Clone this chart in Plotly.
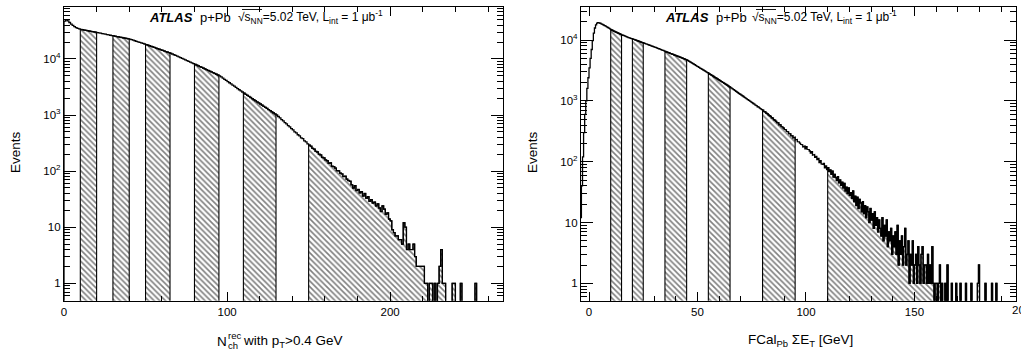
import plotly.graph_objects as go

# ---------------- data ----------------
# Left panel: N_ch^rec (pT > 0.4 GeV), bin width 1, first bin starts at 0
nch_start = 0
nch_width = 1
nch_counts = [
    47000, 49500, 47500, 44500, 41500, 39500, 37500, 36200, 35000, 34200,
    33500, 33080, 32660, 32250, 31840, 31440, 31050, 30660, 30270, 29890,
    29500, 29100, 28700, 28300, 27910, 27530, 27150, 26780, 26410, 26050,
    25700, 25360, 25030, 24700, 24370, 24050, 23730, 23420, 23110, 22800,
    22500, 22000, 21520, 21050, 20590, 20130, 19690, 19260, 18840, 18420,
    18000, 17580, 17160, 16760, 16370, 15980, 15600, 15240, 14880, 14530,
    14190, 13850, 13530, 13210, 12900, 12600, 12230, 11860, 11510, 11170,
    10830, 10510, 10200, 9900, 9600, 9320, 9040, 8770, 8510, 8260,
    8010, 7750, 7510, 7280, 7060, 6840, 6630, 6420, 6220, 6030,
    5850, 5670, 5490, 5320, 5160, 5000, 4770, 4550, 4330, 4130,
    3940, 3760, 3580, 3420, 3260, 3110, 2960, 2820, 2690, 2570,
    2450, 2340, 2240, 2140, 2050, 1960, 1870, 1790, 1710, 1640,
    1570, 1500, 1430, 1370, 1310, 1250, 1200, 1140, 1090, 1045,
    1000, 940, 890, 826, 785, 730, 695, 645, 612, 570,
    545, 500, 480, 445, 425, 392, 378, 345, 333, 305,
    290, 278, 255, 247, 225, 219, 200, 194, 176, 172,
    158, 153, 138, 140, 122, 120, 113, 102, 101, 92,
    89, 80, 81, 72, 68, 66, 57, 50, 55, 45,
    47, 41, 43, 36, 40, 33, 35, 29, 31, 27,
    28, 24, 26, 22, 19, 24, 21, 17, 18, 14,
    13, 9, 8, 7, 7, 6, 6, 5, 12, 10,
    4, 5, 4, 4, 5, 3, 2, 2, 2, 2,
    2, 1, 1, 0, 1, 1, 0, 1, 0, 1,
    2, 4, 1, 1, 0, 0, 0, 0, 1, 1,
    0, 0, 0, 1, 0, 0, 0, 0, 0, 0,
    0, 0, 1, 0, 0, 0, 0, 0, 0, 0,
    0, 0, 0, 0, 0, 0, 0, 0, 0,
]
nch_bands = [(10, 20), (30, 40), (50, 65), (80, 95), (110, 130), (150, 270)]

# Right panel: FCal_Pb sum ET [GeV], bin width 0.5 GeV, first bin starts at -4
et_start = -4
et_width = 0.5
et_counts = [
    12, 40, 120, 300, 600, 1000, 1600, 2400, 3500, 5000,
    7000, 9800, 13000, 15800, 17800, 19000, 19400, 19200, 18900, 18500,
    18100, 17700, 17300, 16900, 16500, 16100, 15700, 15300, 14900, 14500,
    14200, 13900, 13650, 13400, 13150, 12900, 12650, 12400, 12200, 12000,
    11800, 11600, 11400, 11200, 11000, 10850, 10700, 10550, 10400, 10250,
    10100, 9950, 9800, 9650, 9500, 9350, 9200, 9075, 8950, 8810,
    8680, 8550, 8420, 8300, 8170, 8050, 7920, 7800, 7680, 7560,
    7440, 7320, 7200, 7080, 6970, 6860, 6750, 6620, 6500, 6400,
    6300, 6200, 6100, 6000, 5900, 5810, 5720, 5630, 5540, 5450,
    5370, 5280, 5200, 5110, 5030, 4950, 4870, 4780, 4700, 4580,
    4470, 4360, 4250, 4140, 4040, 3940, 3840, 3740, 3650, 3560,
    3470, 3380, 3300, 3220, 3140, 3060, 2980, 2910, 2840, 2760,
    2690, 2620, 2550, 2480, 2420, 2360, 2300, 2240, 2180, 2120,
    2070, 2010, 1960, 1910, 1860, 1810, 1760, 1715, 1670, 1620,
    1575, 1530, 1485, 1440, 1400, 1360, 1320, 1285, 1250, 1215,
    1180, 1145, 1110, 1080, 1050, 1020, 990, 960, 933, 905,
    884, 852, 836, 801, 790, 760, 738, 718, 703, 668,
    660, 628, 617, 590, 572, 556, 528, 521, 492, 480,
    462, 440, 436, 405, 404, 380, 370, 356, 341, 333,
    316, 309, 290, 288, 268, 266, 247, 252, 228, 232,
    214, 212, 202, 193, 190, 176, 181, 162, 176, 160,
    158, 150, 139, 146, 128, 131, 118, 122, 108, 113,
    97, 104, 92, 90, 94, 79, 85, 74, 80, 69,
    73, 62, 70, 56, 62, 55, 49, 57, 45, 50,
    41, 46, 37, 44, 33, 38, 30, 37, 28, 31,
    25, 33, 22, 27, 19, 26, 17, 24, 21, 15,
    22, 14, 19, 12, 18, 15, 10, 17, 11, 14,
    8, 15, 9, 12, 7, 11, 8, 6, 12, 5,
    9, 6, 11, 4, 7, 5, 8, 3, 6, 4,
    7, 3, 9, 2, 5, 3, 6, 2, 4, 8,
    2, 3, 5, 1, 3, 2, 5, 1, 2, 3,
    1, 4, 2, 1, 3, 4, 1, 2, 2, 1,
    3, 1, 2, 1, 4, 1, 0, 1, 1, 0,
    1, 2, 0, 1, 0, 0, 1, 0, 2, 0,
    0, 0, 1, 0, 0, 0, 1, 0, 0, 0,
    1, 0, 0, 0, 0, 1, 0, 0, 0, 0,
    1, 0, 0, 0, 0, 0, 1, 2, 0, 0,
    0, 0, 0, 1, 0, 0, 0, 0, 0, 1,
    0, 0, 0, 1, 0, 0, 0, 0, 0, 0,
    0, 0, 0, 0, 0, 0, 0, 0, 0, 0,
]
et_bands = [(10, 15), (20, 25), (35, 45), (55, 65), (80, 95), (110, 200)]

left_xticks = [0, 100, 200]
right_xticks = [0, 50, 100, 150]
ytick_vals = [1, 10, 100, 1000, 10000]
ytick_text = ["1", "10", "10<sup>2</sup>", "10<sup>3</sup>", "10<sup>4</sup>"]

FLOOR = 0.05  # below the visible log range, used for empty bins / baseline
FONT = "Liberation Sans"
W, H = 1021, 350


def step_xy(start, width, counts):
    xs, ys = [], []
    for i, c in enumerate(counts):
        x0 = start + i * width
        v = c if c > 0 else FLOOR
        xs += [x0, x0 + width]
        ys += [v, v]
    return xs, ys


def band_xy(start, width, counts, a, b):
    xs, ys = [a], [FLOOR]
    for i, c in enumerate(counts):
        x0 = start + i * width
        if x0 >= a - 1e-9 and x0 < b - 1e-9:
            v = c if c > 0 else FLOOR
            xs += [x0, x0 + width]
            ys += [v, v]
    xs += [xs[-1], a]
    ys += [FLOOR, FLOOR]
    return xs, ys


fig = go.Figure()

for (start, width, counts, bands, xa, ya) in [
    (nch_start, nch_width, nch_counts, nch_bands, "x", "y"),
    (et_start, et_width, et_counts, et_bands, "x2", "y2"),
]:
    for a, b in bands:
        bx, by = band_xy(start, width, counts, a, b)
        fig.add_trace(go.Scatter(
            x=bx, y=by, mode="lines", fill="toself",
            fillcolor="white",
            fillpattern=dict(shape="\\", size=4, solidity=0.4,
                             fgcolor="black", bgcolor="white"),
            line=dict(color="black", width=1.1),
            xaxis=xa, yaxis=ya, hoverinfo="skip", showlegend=False,
        ))
    sx, sy = step_xy(start, width, counts)
    fig.add_trace(go.Scatter(
        x=[start] + sx, y=[FLOOR] + sy, mode="lines",
        line=dict(color="black", width=1.3),
        xaxis=xa, yaxis=ya, hoverinfo="skip", showlegend=False,
    ))

px2x = lambda p: p / W
py2y = lambda p: 1 - p / H

y_dom = [py2y(300.7), py2y(7)]

common_axis = dict(
    showline=True, linecolor="black", linewidth=1.3, mirror="allticks",
    ticks="inside", tickcolor="black", tickwidth=1,
    showgrid=False, zeroline=False, automargin=False,
    tickfont=dict(family=FONT, size=11.5, color="black"),
)

minor_log = [m * 10 ** e for e in range(-1, 5) for m in range(2, 10)]
minor_log = [v for v in minor_log if v >= 0.5]

fig.update_layout(
    width=W, height=H,
    margin=dict(l=0, r=0, t=0, b=0),
    paper_bgcolor="white", plot_bgcolor="white",
    showlegend=False,
    xaxis=dict(domain=[px2x(64), px2x(502.7)], range=[0, 269],
               tickmode="array", tickvals=left_xticks, ticklen=9,
               minor=dict(tickmode="array", tickvals=list(range(20, 270, 20)),
                          ticklen=5, ticks="inside", tickcolor="black"),
               anchor="y", **common_axis),
    yaxis=dict(domain=y_dom, type="log", range=[-0.31, 4.925],
               tickmode="array", tickvals=ytick_vals, ticktext=ytick_text,
               ticklen=12,
               minor=dict(tickmode="array", tickvals=minor_log,
                          ticklen=6, ticks="inside", tickcolor="black"),
               anchor="x", **common_axis),
    xaxis2=dict(domain=[px2x(581), px2x(1016)], range=[-3.69, 196.8],
                tickmode="array", tickvals=right_xticks, ticklen=9,
                minor=dict(tickmode="array", tickvals=list(range(0, 200, 10)),
                           ticklen=5, ticks="inside", tickcolor="black"),
                anchor="y2", **common_axis),
    yaxis2=dict(domain=y_dom, type="log", range=[-0.286, 4.544],
                tickmode="array", tickvals=ytick_vals, ticktext=ytick_text,
                ticklen=12,
                minor=dict(tickmode="array", tickvals=minor_log,
                           ticklen=6, ticks="inside", tickcolor="black"),
                anchor="x2", **common_axis),
)

ann = []
def add_text(text, x, y, size=13.5, xanchor="center", yanchor="middle", angle=0):
    ann.append(dict(text=text, x=px2x(x), y=py2y(y), xref="paper", yref="paper",
                    showarrow=False, xanchor=xanchor, yanchor=yanchor,
                    textangle=angle,
                    font=dict(family=FONT, size=size, color="black")))

# axis titles
add_text("Events", 15, 152, angle=-90)
add_text("Events", 532, 152, angle=-90)
# N_ch^rec with stacked super/subscript
add_text("N", 229, 341, xanchor="right")
add_text("rec", 225.5, 335.5, size=9.5, xanchor="left")
add_text("ch", 225.5, 345, size=9.5, xanchor="left")
add_text("with p<sub>T</sub>>0.4 GeV", 241, 341, xanchor="left")
add_text("FCal<sub>Pb</sub> ΣE<sub>T</sub> [GeV]", 800, 340)
# cut-off label at the right edge of the right panel
add_text("200", 1021, 310, size=11.5)

# ATLAS labels
shapes = []
for x0, x1, x2 in [(147, 198, 236), (663, 714, 750)]:
    add_text("<b><i>ATLAS</i></b>", x0, 17, size=13, xanchor="left")
    add_text("p+Pb", x1, 17, size=13, xanchor="left")
    add_text("√s<sub>NN</sub>=5.02 TeV, L<sub>int</sub> = 1 μb<sup>-1</sup>",
             x2, 17, size=12, xanchor="left")
    # overline of the square-root sign
    shapes.append(dict(type="line", xref="paper", yref="paper",
                       x0=px2x(x2 + 6), x1=px2x(x2 + 26),
                       y0=py2y(9.5), y1=py2y(9.5),
                       line=dict(color="black", width=0.9)))

fig.update_layout(annotations=ann, shapes=shapes)

fig.write_html("out.html", config={"displayModeBar": False},
               post_script="document.body.style.margin='0';document.body.style.padding='0';")
